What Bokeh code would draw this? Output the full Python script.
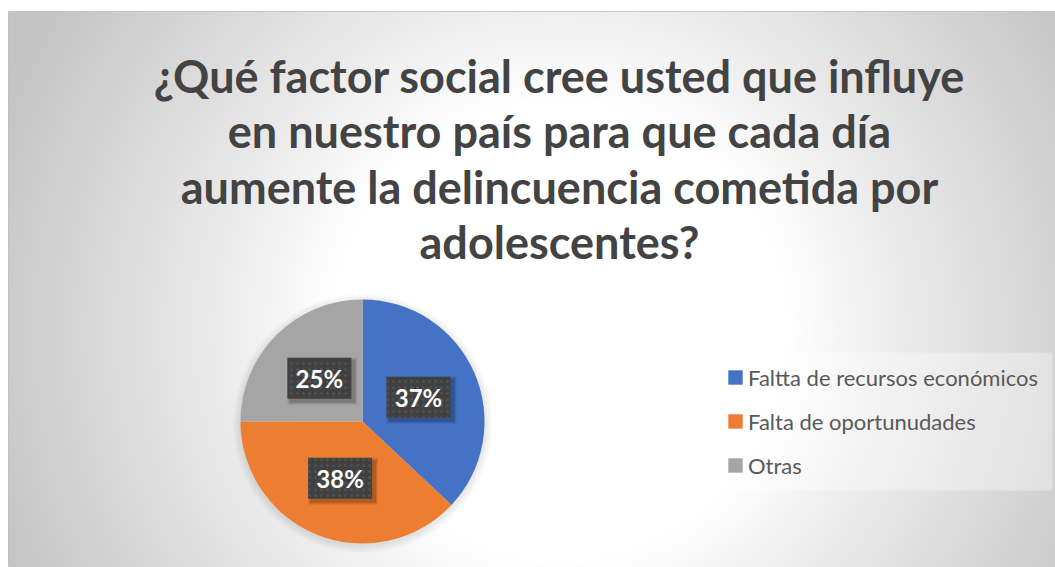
import numpy as np
from bokeh.plotting import figure
from bokeh.models import ColumnDataSource, Range1d, Legend, LegendItem, Label
from bokeh.transform import dodge
from bokeh.core.properties import value
from bokeh.embed import file_html
from bokeh.resources import INLINE

# ---- data ----
title_lines = [
    "¿Qué factor social cree usted que influye",
    "en nuestro país para que cada día",
    "aumente la delincuencia cometida por",
    "adolescentes?",
]
categories = ["Faltta de recursos económicos", "Falta de oportunudades", "Otras"]
percentages = [37, 38, 25]
colors = ["#4472C4", "#ED7D31", "#A5A5A5"]

# ---- layout ----
W, H = 1047, 556
p = figure(width=W + 8, height=H + 11, output_backend="svg", toolbar_location=None,
           x_range=Range1d(0, W), y_range=Range1d(0, H),
           x_axis_location=None, y_axis_location=None,
           min_border_left=8, min_border_right=0, min_border_bottom=0, min_border_top=11,
           border_fill_color="white")
p.grid.visible = False
p.outline_line_color = "#bfbfbf"

# radial gradient background (style only)
s = 2
ny, nx = H // s, (W + 1) // s
xs = (np.arange(nx) + 0.5) * s
ys = (np.arange(ny) + 0.5) * s
X, Y = np.meshgrid(xs, ys)
px = X + 8
py = 11 + (H - Y)
r = np.hypot(px - 560, py - 330)
t = np.clip((r - 230) / 380, 0, 1)
g = np.round(255 - 60 * t ** 0.9).astype(np.uint32)
img = (np.uint32(255) << 24) | (g << 16) | (g << 8) | g
p.image_rgba(image=[img], x=0, y=0, dw=W, dh=H)

# pie
cx, cy, R = 354, 146, 122
fr = np.array(percentages, dtype=float) / sum(percentages)
cum = np.concatenate([[0.0], np.cumsum(fr)])
start = np.pi / 2 - 2 * np.pi * cum[1:]
end = np.pi / 2 - 2 * np.pi * cum[:-1]
mid = (start + end) / 2
src = ColumnDataSource(dict(
    start=start, end=end, color=colors, label=categories,
    lx=cx + 0.5 * R * np.cos(mid), ly=cy + 0.5 * R * np.sin(mid),
    txt=[f"{v}%" for v in percentages],
))

# soft pie shadow
for k in range(1, 9):
    p.circle(x=cx, y=cy - 2, radius=R + k, fill_color="black", fill_alpha=0.012, line_color=None)

wr = p.wedge(x=cx, y=cy, radius=R, start_angle="start", end_angle="end",
             fill_color="color", line_color=None, source=src)

# data label boxes (soft shadow, patterned dark box, text)
for k, a in ((6, 0.07), (4, 0.09), (2, 0.12)):
    p.rect(x=dodge("lx", 3), y=dodge("ly", -3), width=64 + k, height=41 + k,
           fill_color="black", fill_alpha=a, line_color=None, source=src)
p.rect(x="lx", y="ly", width=64, height=41, fill_color="#404040", line_color=None,
       hatch_pattern="dot", hatch_color="#505050", hatch_scale=6, hatch_weight=1.5,
       source=src)
p.text(x="lx", y="ly", text="txt", text_align="center", text_baseline="middle",
       text_color="white", text_font=value("Lato"), text_font_style="bold",
       text_font_size="24px", source=src)

# legend
p.quad(left=706, right=1044, bottom=77, top=215, fill_color="white", fill_alpha=0.35,
       line_color=None)
items = [LegendItem(label=categories[i], renderers=[wr], index=i) for i in range(len(categories))]
legend = Legend(items=items, location=(718, 88.5), orientation="vertical",
                glyph_width=18, glyph_height=18, label_standoff=4, label_height=27,
                spacing=17, padding=0, margin=0, border_line_color=None,
                background_fill_alpha=0, label_text_font="Lato",
                label_text_font_size="22px", label_text_color="#595959")
p.add_layout(legend, "center")

# title
title = Label(x=551, y=519, x_units="screen", y_units="screen", text="\n".join(title_lines),
              text_align="center", text_baseline="top", text_font="Lato",
              text_font_style="bold", text_font_size="45px", text_color="#434343",
              text_line_height=1.03)
p.add_layout(title, "center")

open("out.html", "w").write(file_html(p, INLINE))
